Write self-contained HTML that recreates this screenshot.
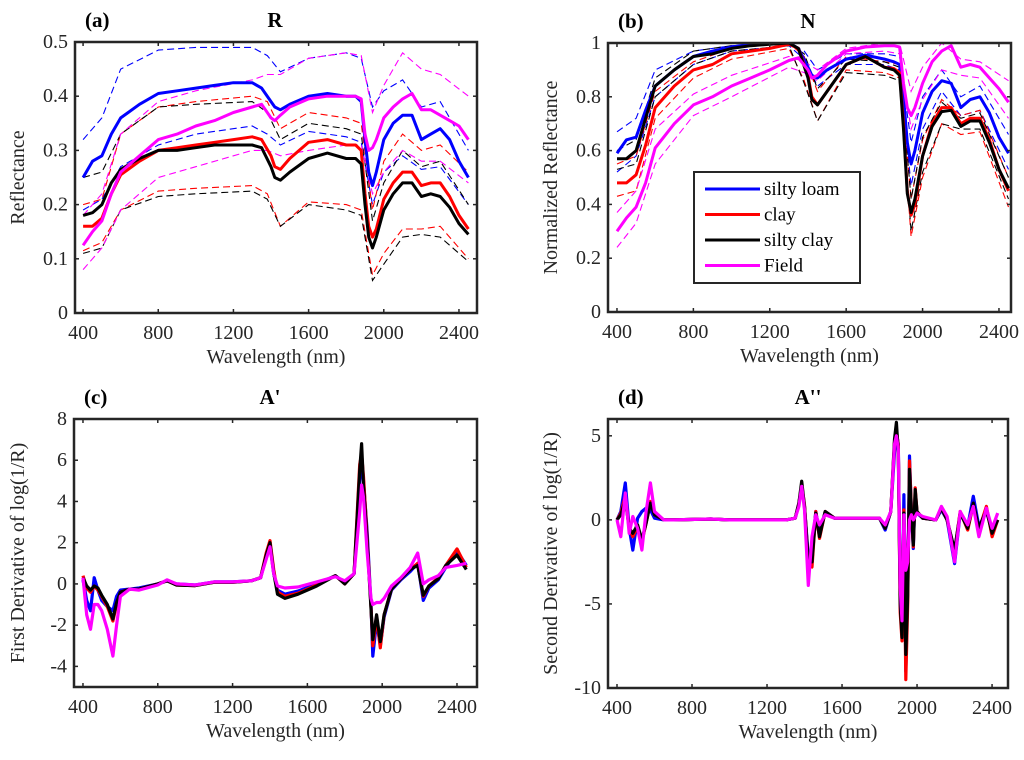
<!DOCTYPE html>
<html><head><meta charset="utf-8">
<style>
html,body{margin:0;padding:0;background:#fff;}
svg{display:block;font-family:"Liberation Serif","DejaVu Serif",serif;}
</style></head>
<body>
<svg id="fig" width="1024" height="760" viewBox="0 0 1024 760" xmlns="http://www.w3.org/2000/svg">
<rect x="0" y="0" width="1024" height="760" fill="#fff"/>
</svg>
<script>
// ---------- data ----------
const seriesNames = ["silty loam","clay","silty clay","Field"];
const seriesColors = ["#0000ff","#ff0000","#000000","#ff00ff"];
const xTicks = [400,800,1200,1600,2000,2400];

// Panel (a) reflectance
const wlA = [400,450,500,550,600,700,800,900,1000,1100,1200,1300,1350,1400,1420,1450,1500,1600,1700,1800,1850,1880,1900,1920,1940,1960,2000,2050,2100,2150,2200,2250,2300,2350,2400,2450];
const aBlue = [0.25,0.28,0.29,0.33,0.36,0.385,0.405,0.41,0.415,0.42,0.425,0.425,0.415,0.39,0.38,0.375,0.385,0.40,0.405,0.40,0.40,0.39,0.32,0.26,0.235,0.26,0.32,0.35,0.365,0.365,0.32,0.33,0.34,0.32,0.28,0.25];
const aRed = [0.16,0.16,0.175,0.22,0.255,0.28,0.30,0.305,0.31,0.315,0.32,0.325,0.32,0.29,0.27,0.265,0.285,0.315,0.32,0.31,0.31,0.30,0.22,0.16,0.14,0.155,0.21,0.24,0.26,0.26,0.235,0.24,0.24,0.215,0.18,0.155];
const aBlack = [0.18,0.185,0.20,0.24,0.265,0.285,0.30,0.30,0.305,0.31,0.31,0.31,0.305,0.27,0.25,0.245,0.26,0.285,0.295,0.285,0.285,0.275,0.20,0.14,0.12,0.14,0.19,0.22,0.24,0.24,0.215,0.22,0.215,0.195,0.165,0.145];
const aField = [0.125,0.15,0.17,0.22,0.26,0.29,0.32,0.33,0.345,0.355,0.37,0.38,0.385,0.36,0.355,0.365,0.38,0.395,0.40,0.40,0.40,0.395,0.33,0.30,0.305,0.32,0.36,0.38,0.395,0.405,0.375,0.375,0.365,0.355,0.345,0.32];
const wlBand = [400,500,600,800,1000,1300,1380,1450,1600,1800,1880,1940,2000,2100,2200,2300,2450];
const aBlueUp = [0.32,0.36,0.45,0.485,0.49,0.49,0.475,0.445,0.47,0.48,0.47,0.38,0.41,0.43,0.38,0.39,0.30];
const aBlueLo = [0.19,0.21,0.27,0.31,0.33,0.345,0.33,0.31,0.335,0.325,0.315,0.20,0.26,0.29,0.265,0.27,0.20];
const aRedUp = [0.20,0.21,0.33,0.38,0.39,0.40,0.39,0.34,0.37,0.36,0.35,0.19,0.28,0.33,0.30,0.31,0.26];
const aRedLo = [0.115,0.13,0.19,0.225,0.23,0.235,0.22,0.16,0.205,0.20,0.19,0.07,0.11,0.155,0.155,0.16,0.10];
const aBlackUp = [0.25,0.26,0.33,0.38,0.385,0.39,0.37,0.32,0.35,0.34,0.33,0.17,0.24,0.30,0.27,0.28,0.20];
const aBlackLo = [0.11,0.12,0.19,0.215,0.22,0.225,0.21,0.16,0.20,0.19,0.18,0.06,0.09,0.14,0.145,0.14,0.095];
const aFieldUp = [0.18,0.22,0.33,0.39,0.41,0.43,0.44,0.44,0.47,0.48,0.475,0.37,0.42,0.48,0.45,0.44,0.40];
const aFieldLo = [0.08,0.12,0.19,0.25,0.27,0.30,0.30,0.29,0.30,0.31,0.31,0.22,0.26,0.30,0.28,0.28,0.24];
const yTicksA = [0,0.1,0.2,0.3,0.4,0.5];
const yLabelsA = ["0","0.1","0.2","0.3","0.4","0.5"];

// Panel (b) normalized
const bBlue = [0.59,0.64,0.65,0.75,0.84,0.90,0.95,0.97,0.985,0.995,1.0,1.0,0.98,0.91,0.88,0.87,0.90,0.94,0.955,0.94,0.93,0.92,0.80,0.63,0.55,0.60,0.74,0.82,0.86,0.85,0.76,0.79,0.80,0.74,0.65,0.59];
const bRed = [0.48,0.48,0.51,0.62,0.76,0.84,0.90,0.92,0.96,0.97,0.98,0.995,0.98,0.88,0.80,0.77,0.82,0.92,0.95,0.91,0.905,0.89,0.70,0.45,0.36,0.40,0.58,0.70,0.76,0.76,0.70,0.72,0.72,0.64,0.53,0.45];
const bBlack = [0.57,0.57,0.60,0.72,0.84,0.90,0.95,0.96,0.98,0.99,0.995,1.0,0.98,0.87,0.79,0.77,0.82,0.92,0.95,0.91,0.90,0.88,0.68,0.44,0.37,0.42,0.58,0.69,0.745,0.75,0.69,0.71,0.71,0.63,0.53,0.46];
const bField = [0.30,0.35,0.39,0.48,0.61,0.70,0.77,0.80,0.84,0.87,0.90,0.935,0.945,0.90,0.87,0.88,0.92,0.97,0.985,0.99,0.99,0.985,0.85,0.76,0.73,0.76,0.85,0.93,0.97,0.99,0.91,0.92,0.91,0.87,0.83,0.78];
const bBlueUp = [0.67,0.72,0.90,0.97,0.99,1.0,0.97,0.90,0.96,0.96,0.95,0.63,0.80,0.90,0.80,0.84,0.66];
const bBlueLo = [0.52,0.58,0.80,0.92,0.97,0.99,0.94,0.84,0.92,0.92,0.90,0.47,0.68,0.82,0.73,0.75,0.53];
const bRedUp = [0.55,0.58,0.82,0.93,0.98,1.0,0.95,0.82,0.95,0.93,0.92,0.42,0.64,0.79,0.73,0.75,0.50];
const bRedLo = [0.43,0.45,0.72,0.87,0.94,0.98,0.86,0.71,0.90,0.89,0.87,0.28,0.50,0.70,0.66,0.67,0.39];
const bBlackUp = [0.60,0.64,0.87,0.97,0.99,1.0,0.96,0.83,0.94,0.93,0.91,0.42,0.65,0.78,0.72,0.74,0.50];
const bBlackLo = [0.53,0.55,0.80,0.92,0.97,0.99,0.85,0.71,0.89,0.88,0.86,0.30,0.52,0.70,0.68,0.68,0.42];
const bFieldUp = [0.37,0.45,0.68,0.81,0.88,0.95,0.93,0.90,0.98,1.0,1.0,0.82,0.91,1.0,0.94,0.93,0.86];
const bFieldLo = [0.24,0.33,0.55,0.73,0.80,0.91,0.89,0.86,0.96,0.97,0.96,0.68,0.79,0.90,0.88,0.87,0.72];
const yTicksB = [0,0.2,0.4,0.6,0.8,1];
const yLabelsB = ["0","0.2","0.4","0.6","0.8","1"];

// Panel (c) first derivative
const wlC = [400,420,440,460,480,500,530,560,580,600,650,700,800,850,900,1000,1100,1200,1300,1350,1380,1400,1420,1440,1480,1550,1650,1750,1800,1850,1880,1890,1900,1920,1940,1950,1970,1990,2010,2050,2100,2150,2190,2220,2250,2300,2340,2400,2450];
const cBlue = [0.2,-0.8,-1.3,0.3,-0.3,-0.8,-1.1,-1.3,-0.6,-0.3,-0.25,-0.2,0,0.15,0,-0.05,0.1,0.1,0.15,0.3,1.3,1.9,0.5,-0.3,-0.5,-0.35,0,0.4,0.05,0.5,5.0,6.0,5.0,2.5,-1.0,-3.5,-1.8,-3.0,-1.6,-0.3,0.2,0.6,1.0,-0.8,-0.2,0.2,0.8,1.6,0.9];
const cRed = [0.4,-0.2,-0.4,-0.1,-0.3,-0.6,-1.1,-1.8,-1.0,-0.4,-0.25,-0.25,0,0.15,-0.05,-0.08,0.08,0.08,0.15,0.3,1.5,2.1,0.7,-0.4,-0.6,-0.45,-0.05,0.4,0,0.5,5.8,6.3,5.2,2.2,-1.1,-3.0,-1.6,-3.1,-1.5,-0.25,0.25,0.7,1.0,-0.6,-0.1,0.3,0.9,1.7,0.8];
const cBlack = [0.3,-0.1,-0.3,-0.1,-0.2,-0.55,-1.0,-1.7,-0.9,-0.4,-0.25,-0.25,0,0.15,-0.05,-0.08,0.08,0.08,0.15,0.3,1.4,2.0,0.55,-0.5,-0.7,-0.5,-0.1,0.4,0,0.5,5.5,6.8,4.8,2,-1.2,-2.7,-1.5,-2.8,-1.5,-0.25,0.25,0.7,0.9,-0.55,-0.1,0.25,0.9,1.4,0.7];
const cField = [0.3,-1.5,-2.2,-1.0,-1.0,-1.3,-2.2,-3.5,-2.0,-0.6,-0.25,-0.3,-0.05,0.2,0,-0.05,0.1,0.1,0.15,0.3,1.2,1.8,0.5,-0.1,-0.2,-0.15,0.1,0.35,0.15,0.5,3.5,4.8,4.2,1.5,-0.7,-1.0,-0.9,-0.9,-0.7,-0.1,0.3,0.8,1.5,0.0,0.2,0.4,0.8,0.9,1.0];
const yTicksC = [-4,-2,0,2,4,6,8];
const yLabelsC = ["-4","-2","0","2","4","6","8"];

// Panel (d) second derivative
const wlD = [400,420,444,465,484,510,533,555,578,600,650,700,900,1000,1300,1350,1370,1385,1400,1420,1440,1460,1480,1510,1560,1800,1830,1860,1880,1890,1900,1910,1920,1930,1940,1950,1960,1970,1980,1990,2000,2030,2100,2130,2160,2200,2230,2270,2300,2330,2370,2400,2430];
const dBlue = [0,0.5,2.2,-0.5,-1.8,0.1,0.5,0.7,0.6,0.1,0,0,0.05,0,0,0.1,1.0,2.0,0.8,-2.2,-1.8,0.5,-0.8,0.5,0.1,0.1,-0.6,0.5,4.0,5.2,4.5,-4.5,-6.5,1.5,-9.0,-4.0,3.8,0.4,-1.7,1.6,0.4,0.1,0,0.6,0,-2.6,0.4,-0.4,1.4,-0.4,0.5,-0.6,0];
const dRed = [0,0.4,1.4,-0.5,-1.0,-0.4,-1.3,-0.2,1.1,0.3,0,0,0.05,0,0,0.1,1.0,2.1,0.9,-2.6,-2.8,0.5,-1.1,0.5,0.1,0.1,-0.5,0.5,4.6,5.4,4.4,-5.5,-7.2,0.6,-9.5,-5.0,3.5,0.6,-1.6,1.9,0.5,0.1,0,0.7,0,-1.9,0.5,-0.6,0.9,-0.6,0.8,-1.0,0];
const dBlack = [0,0.3,1.2,-0.5,-0.8,-0.3,-1.2,-0.2,1.0,0.3,0,0,0.05,0,0,0.1,1.0,2.3,0.8,-2.5,-2.5,0.4,-1.0,0.5,0.1,0.1,-0.5,0.5,4.8,5.8,4.0,-5.0,-7.0,0.4,-8.0,-4.5,3.0,0.5,-1.5,1.8,0.5,0.1,0,0.7,0,-1.8,0.4,-0.5,1.0,-0.5,0.6,-0.8,0];
const dField = [0,-1.0,1.6,-0.8,0.2,-0.5,-1.8,0.5,2.2,0.5,0,0,0.05,0,0,0.1,0.8,2.0,0.6,-3.9,-1.0,0.3,-0.3,0.3,0.1,0.1,-0.3,0.5,4.5,5.0,4.2,-4.0,-6.0,0.3,-3.0,-2.5,0.0,0.3,0.0,0.2,0.4,0.2,0,0.8,0.2,-2.5,0.5,-0.3,0.8,-1.0,0.7,-0.5,0.4];
const yTicksD = [-10,-5,0,5];
const yLabelsD = ["-10","-5","0","5"];

// ---------- drawing ----------
const svg = document.getElementById('fig');
const NS = "http://www.w3.org/2000/svg";
function mk(tag, attrs, parent){
  const e = document.createElementNS(NS, tag);
  for (const k in attrs) e.setAttribute(k, attrs[k]);
  (parent||svg).appendChild(e);
  return e;
}
function makeScale(d0,d1,r0,r1){ return v => r0 + (v-d0)*(r1-r0)/(d1-d0); }

function panel(p){
  const g = mk('g',{});
  
  
  const X = makeScale(p.xd[0],p.xd[1],p.L,p.R);
  const Y = makeScale(p.yd[0],p.yd[1],p.B,p.T);
  const cp = mk('clipPath',{id:'clip-'+p.name},g);
  mk('rect',{x:p.L,y:p.T,width:p.R-p.L,height:p.B-p.T},cp);
  const plot = mk('g',{'clip-path':'url(#clip-'+p.name+')'},g);
  
  
  (p.bands||[]).forEach(b=>{
    const pts = b.wl.map((w,i)=>X(w).toFixed(1)+','+Y(b.v[i]).toFixed(1)).join(' ');
    const el = mk('polyline',{points:pts,fill:'none',stroke:b.c,'stroke-width':1.1,'stroke-dasharray':'7,4'},plot);
    
    
  });
  p.series.forEach((s,si)=>{
    const pts = s.wl.map((w,i)=>X(w).toFixed(1)+','+Y(s.v[i]).toFixed(1)).join(' ');
    const el = mk('polyline',{points:pts,fill:'none',stroke:s.c,'stroke-width':p.lw||3,'stroke-linejoin':'round'},plot);
    
    
  });
  const box = mk('rect',{x:p.L,y:p.T,width:p.R-p.L,height:p.B-p.T,fill:'none',stroke:'#262626','stroke-width':2.5},g);
  
  
  xTicks.forEach(t=>{
    const x = X(t);
    mk('line',{x1:x,x2:x,y1:p.B,y2:p.B-4,stroke:'#262626','stroke-width':1.5},g);
    mk('line',{x1:x,x2:x,y1:p.T,y2:p.T+4,stroke:'#262626','stroke-width':1.5},g);
    const tx = mk('text',{x:x,y:p.B+26,'font-size':20,'text-anchor':'middle',fill:'#262626'},g);
    tx.textContent = t;
    
    
  });
  p.yt.forEach((t,i)=>{
    const y = Y(t);
    mk('line',{x1:p.L,x2:p.L+4,y1:y,y2:y,stroke:'#262626','stroke-width':1.5},g);
    mk('line',{x1:p.R,x2:p.R-4,y1:y,y2:y,stroke:'#262626','stroke-width':1.5},g);
    const tx = mk('text',{x:p.L-7,y:y+6,'font-size':20,'text-anchor':'end',fill:'#262626'},g);
    tx.textContent = p.yl[i];
    
    
  });
  const xt = mk('text',{x:(p.L+p.R)/2,y:p.B+50,'font-size':20,'text-anchor':'middle',fill:'#262626'},g);
  xt.textContent = 'Wavelength (nm)';
  
  
  const yt = mk('text',{x:0,y:0,'font-size':20,'text-anchor':'middle',fill:'#262626',transform:'translate('+p.ytx+','+((p.T+p.B)/2)+') rotate(-90)'},g);
  yt.textContent = p.ytitle;
  
  
  const lab = mk('text',{x:p.L+10,y:p.T-15,'font-size':21,'font-weight':'bold',fill:'#000'},g);
  lab.textContent = p.label;
  
  
  const ti = mk('text',{x:p.tx,y:p.T-15,'font-size':21,'font-weight':'bold','text-anchor':'middle',fill:'#000'},g);
  ti.textContent = p.title;
  
  
}

function bands(wl, arrs){ return arrs.map((v,i)=>({wl:wl, v:v, c:seriesColors[Math.floor(i/2)]})); }
function ser(wl, arrs){ return arrs.map((v,i)=>({wl:wl, v:v, c:seriesColors[i]})); }

panel({name:'panel-a-reflectance',L:75,R:477,T:42,B:313,xd:[357,2496],yd:[0,0.5],yt:yTicksA,yl:yLabelsA,
  ytitle:'Reflectance',ytx:24,label:'(a)',title:'R',tx:275,
  bands:bands(wlBand,[aBlueUp,aBlueLo,aRedUp,aRedLo,aBlackUp,aBlackLo,aFieldUp,aFieldLo]),
  series:ser(wlA,[aBlue,aRed,aBlack,aField])});
panel({name:'panel-b-normalized',L:608,R:1011,T:43,B:312,xd:[353,2463],yd:[0,1],yt:yTicksB,yl:yLabelsB,
  ytitle:'Normalized Reflectance',ytx:557,label:'(b)',title:'N',tx:808,
  bands:bands(wlBand,[bBlueUp,bBlueLo,bRedUp,bRedLo,bBlackUp,bBlackLo,bFieldUp,bFieldLo]),
  series:ser(wlA,[bBlue,bRed,bBlack,bField])});
panel({name:'panel-c-first-derivative',L:74,R:477,T:419,B:687,xd:[352,2507],yd:[-5,8],yt:yTicksC,yl:yLabelsC,
  ytitle:'First Derivative of log(1/R)',ytx:24,label:'(c)',title:"A'",tx:270,lw:3.2,
  series:ser(wlC,[cBlue,cRed,cBlack,cField])});
panel({name:'panel-d-second-derivative',L:608,R:1008,T:419,B:688,xd:[352,2485],yd:[-10,6],yt:yTicksD,yl:yLabelsD,
  ytitle:'Second Derivative of log(1/R)',ytx:557,label:'(d)',title:"A''",tx:808,lw:3.2,
  series:ser(wlD,[dBlue,dRed,dBlack,dField])});

// legend
const lg = mk('g',{});


mk('rect',{x:694,y:172,width:166,height:111,fill:'#fff',stroke:'#262626','stroke-width':2},lg);
seriesNames.forEach((n,i)=>{
  const y = 189 + i*25.5;
  const ln = mk('line',{x1:705,x2:760,y1:y,y2:y,stroke:seriesColors[i],'stroke-width':3},lg);
  
  
  const t = mk('text',{x:764,y:y+6,'font-size':19,fill:'#000'},lg);
  t.textContent = n;
  
  
});
</script>
</body></html>
